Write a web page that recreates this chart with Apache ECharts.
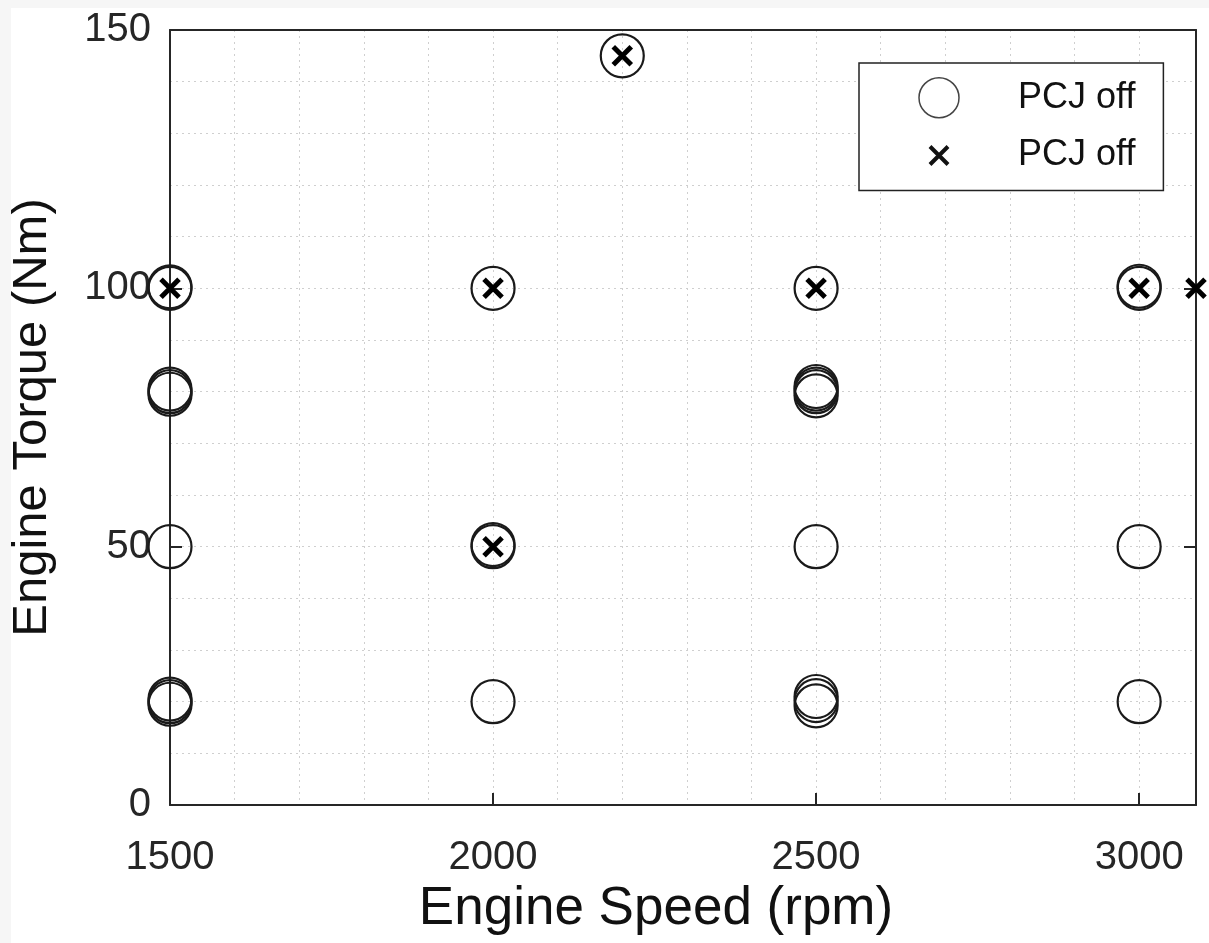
<!DOCTYPE html>
<html>
<head>
<meta charset="utf-8">
<script src="https://cdn.jsdelivr.net/npm/echarts@6/dist/echarts.min.js"></script>
<style>
  html, body { margin: 0; padding: 0; background: #f6f6f6; }
  #paper { position: absolute; left: 11px; top: 8px; right: 0; bottom: 0; background: #fff; }
  #chart { position: absolute; left: 0; top: 0; width: 1209px; height: 943px; }
</style>
</head>
<body>
<div id="paper"></div>
<div id="chart"></div>
<script>
// engine operating points (speed rpm, torque Nm)
var circleSpeed  = [1500, 1500, 1500, 1500, 1500, 1500, 1500, 1500, 1500, 2000, 2000, 2000, 2000, 2200, 2500, 2500, 2500, 2500, 2500, 2500, 2500, 2500, 2500, 3000, 3000, 3000, 3000];
var circleTorque = [100, 80.5, 79.5, 80, 50, 20.5, 19.5, 20, 100.3, 100, 50, 50.4, 20, 145, 100, 81, 79.2, 80, 80.5, 50, 21, 19.2, 20.2, 100, 100.4, 50, 20];
var crossSpeed  = [1500, 2000, 2000, 2200, 2500, 3000, 3088];
var crossTorque = [100, 100, 50, 145, 100, 100, 100];

var xTicks = [1500, 2000, 2500, 3000];
var xMin = 1500, xMax = 3088, yMin = 0, yMax = 150;

var crossPath = 'path://M0,0M40,40M11,11L29,29M29,11L11,29';
var textColor = '#262626';
var font = 'Liberation Sans, Arial, sans-serif';

function pairs(xs, ys) {
  return xs.map(function (x, i) { return [x, ys[i]]; });
}
function plain(v) { return String(v); }

var chart = echarts.init(document.getElementById('chart'));

var gridStyle = { color: '#cfcfcf', width: 1, type: [2, 4] };
var axisLine = { show: true, onZero: false, lineStyle: { color: textColor, width: 2 } };
var tickStyle = { color: textColor, width: 2 };

var option = {
  animation: false,
  textStyle: { fontFamily: font },
  grid: { left: 168, top: 30, right: 13, bottom: 138, containLabel: false },
  legend: {
    orient: 'vertical',
    left: 859,
    top: 63,
    padding: [14, 28, 13, 58],
    itemGap: 15,
    itemWidth: 40,
    itemHeight: 40,
    backgroundColor: '#fff',
    borderColor: '#222',
    borderWidth: 1.5,
    borderRadius: 0,
    formatter: function (n) { return n.trim(); },
    textStyle: { fontSize: 36, color: '#111', padding: [0, 0, 0, 54], fontFamily: font },
    data: [
      { name: 'PCJ off', icon: 'circle', itemStyle: { color: 'rgba(0,0,0,0)', borderColor: '#444', borderWidth: 1.5 } },
      { name: 'PCJ off ', icon: crossPath, itemStyle: { color: 'rgba(0,0,0,0)', borderColor: '#111', borderWidth: 4 } }
    ]
  },
  xAxis: [{
    type: 'value',
    min: xMin, max: xMax, interval: 500,
    name: 'Engine Speed (rpm)',
    nameLocation: 'middle',
    nameGap: 67,
    nameTextStyle: { fontSize: 53, color: '#111', padding: [0, 54, 0, 0] },
    axisLine: axisLine,
    axisTick: { show: true, inside: true, length: 12, customValues: xTicks, lineStyle: tickStyle },
    axisLabel: { fontSize: 40, color: textColor, margin: 33, customValues: xTicks, formatter: plain },
    splitLine: { show: false }
  }, {
    // top edge of the box, also carries the 100 rpm grid
    type: 'value', position: 'top',
    min: xMin, max: xMax, interval: 100,
    axisLine: axisLine,
    axisTick: { show: false },
    axisLabel: { show: false },
    splitLine: { show: true, lineStyle: gridStyle }
  }],
  yAxis: [{
    type: 'value',
    min: yMin, max: yMax, interval: 50,
    name: 'Engine Torque (Nm)',
    nameLocation: 'middle',
    nameGap: 113,
    nameTextStyle: { fontSize: 49, color: '#111' },
    axisLine: axisLine,
    axisTick: { show: true, inside: true, length: 12, lineStyle: tickStyle },
    minorTick: { show: false, splitNumber: 5 },
    axisLabel: { fontSize: 40, color: textColor, margin: 19, formatter: plain },
    splitLine: { show: true, lineStyle: gridStyle },
    minorSplitLine: { show: true, lineStyle: gridStyle }
  }, {
    type: 'value', position: 'right',
    min: yMin, max: yMax, interval: 50,
    axisLine: axisLine,
    axisTick: { show: true, inside: true, length: 12, lineStyle: tickStyle },
    axisLabel: { show: false },
    splitLine: { show: false }
  }],
  series: [{
    name: 'PCJ off',
    type: 'scatter',
    symbol: 'circle',
    symbolSize: 43,
    itemStyle: { color: 'rgba(0,0,0,0)', borderColor: '#1a1a1a', borderWidth: 2.2, opacity: 1 },
    data: pairs(circleSpeed, circleTorque),
    z: 3
  }, {
    name: 'PCJ off ',
    type: 'scatter',
    symbol: crossPath,
    symbolSize: 40,
    itemStyle: { color: 'rgba(0,0,0,0)', borderColor: '#000', borderWidth: 5, opacity: 1 },
    data: pairs(crossSpeed, crossTorque),
    z: 4
  }]
};

chart.setOption(option);
</script>
</body>
</html>
